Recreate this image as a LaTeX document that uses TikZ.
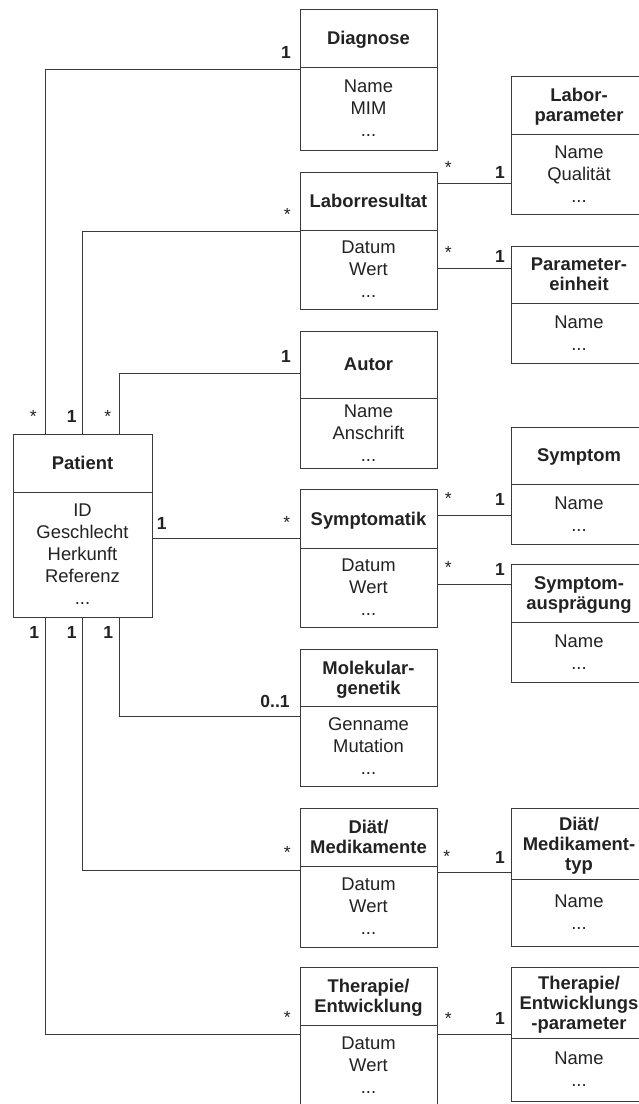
\documentclass[tikz,border=0pt]{standalone}
\usepackage{fontspec}
\setmainfont{Liberation Sans}
\definecolor{ink}{HTML}{222222}
\definecolor{rulegray}{HTML}{3A3A3A}
% keep the height of a line but drop its depth, so titles centre on cap height
\newcommand{\flatbase}[1]{\raisebox{0pt}[\height][0pt]{#1}}

\begin{document}
\begin{tikzpicture}[x=1pt,y=-1pt,
  every node/.style={inner sep=0pt, outer sep=0pt, text=ink},
  cls/.style={draw=rulegray, line width=0.9pt, align=center},
  hd/.style={cls, font=\fontsize{18.4}{20}\selectfont\bfseries},
  bd/.style={cls, anchor=north, font=\fontsize{18.4}{22}\selectfont},
  midcol/.style={minimum width=137pt},
  rgtcol/.style={minimum width=136pt},
  conn/.style={draw=rulegray, line width=0.9pt},
  one/.style={anchor=north, font=\fontsize{17.5}{17.5}\selectfont\bfseries},
  many/.style={anchor=north, font=\fontsize{17.5}{17.5}\selectfont},
]
\useasboundingbox (0,0) rectangle (639,1104);
\clip (0,0) rectangle (639,1104);
\fill[white] (0,0) rectangle (639,1104);

% central class
\node[hd, minimum width=139pt, minimum height=58pt] (pat) at (82.5,463) {Patient};
\node[bd, minimum width=139pt, minimum height=125pt] (pat-b) at (pat.south) {ID\\Geschlecht\\Herkunft\\Referenz\\...};

% middle column
\node[hd, midcol, minimum height=58pt] (diag) at (368.5,38) {\flatbase{Diagnose}};
\node[bd, midcol, minimum height=83pt] (diag-b) at (diag.south) {Name\\MIM\\...};
\node[hd, midcol, minimum height=58pt] (lr) at (368.5,201) {Laborresultat};
\node[bd, midcol, minimum height=79pt] (lr-b) at (lr.south) {Datum\\Wert\\...};
\node[hd, midcol, minimum height=67pt] (au) at (368.5,364.5) {Autor};
\node[bd, midcol, minimum height=70pt] (au-b) at (au.south) {Name\\Anschrift\\...};
\node[hd, midcol, minimum height=59pt] (sm) at (368.5,518.5) {\flatbase{Symptomatik}};
\node[bd, midcol, minimum height=79pt] (sm-b) at (sm.south) {Datum\\Wert\\...};
\node[hd, midcol, minimum height=57pt] (mg) at (368.5,677.5) {Molekular-\\\flatbase{genetik}};
\node[bd, midcol, minimum height=80pt] (mg-b) at (mg.south) {Genname\\Mutation\\...};
\node[hd, midcol, minimum height=58pt] (dm) at (368.5,837) {Diät/\\Medikamente};
\node[bd, midcol, minimum height=81pt] (dm-b) at (dm.south) {Datum\\Wert\\...};
\node[hd, midcol, minimum height=58pt] (te) at (368.5,996) {Therapie/\\\flatbase{Entwicklung}};
\node[bd, midcol, minimum height=81pt] (te-b) at (te.south) {Datum\\Wert\\...};

% right column
\node[hd, rgtcol, minimum height=58pt] (lp) at (579,105) {Labor-\\\flatbase{parameter}};
\node[bd, rgtcol, minimum height=80pt] (lp-b) at (lp.south) {Name\\Qualität\\...};
\node[hd, rgtcol, minimum height=57pt] (pe) at (579,274.5) {Parameter-\\einheit};
\node[bd, rgtcol, minimum height=60pt] (pe-b) at (pe.south) {Name\\...};
\node[hd, rgtcol, minimum height=57pt] (sy) at (579,455.5) {\flatbase{Symptom}};
\node[bd, rgtcol, minimum height=60pt] (sy-b) at (sy.south) {Name\\...};
\node[hd, rgtcol, minimum height=58pt] (sa) at (579,593) {Symptom-\\\flatbase{ausprägung}};
\node[bd, rgtcol, minimum height=60pt] (sa-b) at (sa.south) {Name\\...};
\node[hd, rgtcol, minimum height=71pt] (mt) at (579,843.5) {Diät/\\Medikament-\\\flatbase{typ}};
\node[bd, rgtcol, minimum height=67pt] (mt-b) at (mt.south) {Name\\...};
\node[hd, rgtcol, minimum height=71pt] (tp) at (579,1002.5) {Therapie/\\Entwicklungs\\\flatbase{-parameter}};
\node[bd, rgtcol, minimum height=63pt] (tp-b) at (tp.south) {Name\\...};

% associations of Patient
\draw[conn] (pat.north -| 45,0) |- (diag-b.west |- 0,69);
\draw[conn] (pat.north -| 82,0) |- (lr-b.west |- 0,231);
\draw[conn] (pat.north -| 119,0) |- (au.west |- 0,373);
\draw[conn] (pat-b.east |- 0,538) -- (sm.west |- 0,538);
\draw[conn] (pat-b.south -| 119,0) |- (mg-b.west |- 0,716);
\draw[conn] (pat-b.south -| 82,0) |- (dm-b.west |- 0,870);
\draw[conn] (pat-b.south -| 45,0) |- (te-b.west |- 0,1034);

% associations to lookup classes
\draw[conn] (lr.east |- 0,183) -- (lp-b.west |- 0,183);
\draw[conn] (lr-b.east |- 0,268) -- (pe.west |- 0,268);
\draw[conn] (sm.east |- 0,515) -- (sy-b.west |- 0,515);
\draw[conn] (sm-b.east |- 0,584) -- (sa.west |- 0,584);
\draw[conn] (dm-b.east |- 0,872) -- (mt.west |- 0,872);
\draw[conn] (te-b.east |- 0,1034) -- (tp-b.west |- 0,1034);

% multiplicities
\node[one]  (m-diag) at (286,46.7) {1};
\node[many] (m-lr)   at (287.3,208.3) {*};
\node[one]  (m-au)   at (286,350) {1};
\node[many] (p-diag) at (33.3,410.7) {*};
\node[one]  (p-lr)   at (71.7,410.7) {1};
\node[many] (p-au)   at (107.7,410.7) {*};
\node[one]  (p-sm)   at (161.7,517.3) {1};
\node[many] (m-sm)   at (286.7,516.7) {*};
\node[one]  (p-te)   at (34.3,626.7) {1};
\node[one]  (p-dm)   at (71.7,626.7) {1};
\node[one]  (p-mg)   at (108.3,626.7) {1};
\node[one]  (m-mg)   at (275,695.7) {0..1};
\node[many] (m-dm)   at (287.3,846.7) {*};
\node[many] (m-te)   at (287.3,1011.7) {*};

\node[many] (l-lp) at (448.3,161.7) {*};
\node[one]  (r-lp) at (500,166.7) {1};
\node[many] (l-pe) at (448.3,246.7) {*};
\node[one]  (r-pe) at (500,250) {1};
\node[many] (l-sy) at (448.3,492.7) {*};
\node[one]  (r-sy) at (500,493.3) {1};
\node[many] (l-sa) at (448.3,561.7) {*};
\node[one]  (r-sa) at (500,563.3) {1};
\node[many] (l-mt) at (446.7,850) {*};
\node[one]  (r-mt) at (500,851.7) {1};
\node[many] (l-tp) at (448.3,1012.7) {*};
\node[one]  (r-tp) at (500,1012.7) {1};
\end{tikzpicture}
\end{document}
